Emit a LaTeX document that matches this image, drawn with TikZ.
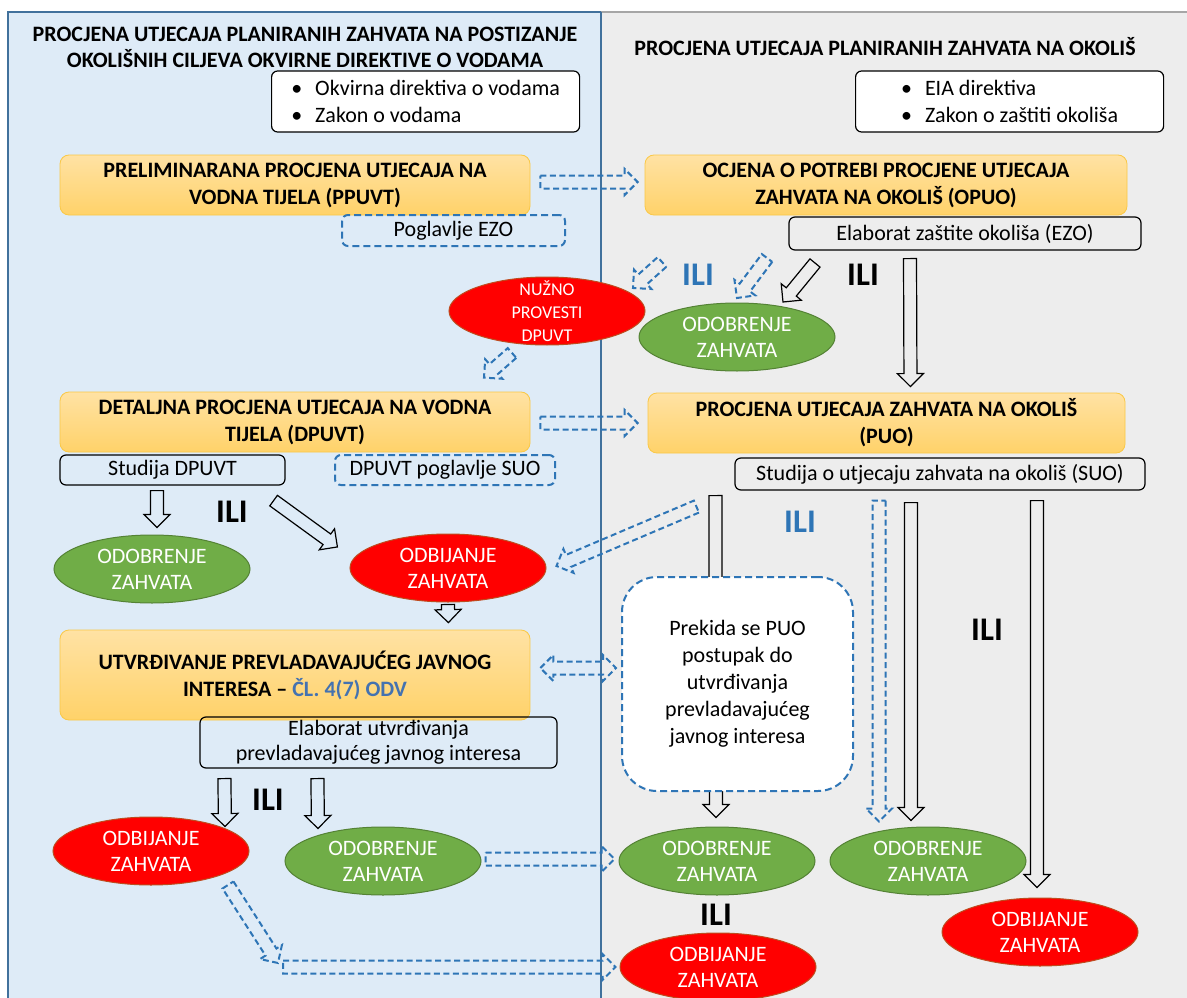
\documentclass[tikz,border=0pt]{standalone}
\usepackage{fontspec}
\setmainfont{Carlito}
\usetikzlibrary{shapes.geometric,calc}

\definecolor{leftbg}{RGB}{222,235,247}
\definecolor{rightbg}{RGB}{237,237,237}
\definecolor{panelline}{RGB}{65,113,156}
\definecolor{greyline}{RGB}{166,166,166}
\definecolor{orTop}{RGB}{255,226,164}
\definecolor{orBot}{RGB}{255,210,105}
\definecolor{orLine}{RGB}{250,200,70}
\definecolor{okFill}{RGB}{112,173,71}
\definecolor{okLine}{RGB}{84,130,53}
\definecolor{noFill}{RGB}{255,0,0}
\definecolor{noLine}{RGB}{190,75,30}
\definecolor{dashblue}{RGB}{46,117,182}
\definecolor{refblue}{RGB}{68,114,176}

\newcommand{\bodyfont}{\fontsize{22}{27}\selectfont}

\tikzset{
  stage/.style={rectangle, rounded corners=9pt, draw=orLine, line width=0.8pt,
    top color=orTop, bottom color=orBot, minimum width=470pt, minimum height=60pt,
    inner sep=0pt, align=center, font=\bodyfont\bfseries},
  doc/.style={rectangle, rounded corners=6pt, draw=black, line width=1.2pt,
    inner sep=0pt, align=center, font=\bodyfont},
  docdash/.style={doc, draw=dashblue, line width=2pt, dash pattern=on 7pt off 4pt},
  law/.style={doc, fill=white, minimum width=308pt, minimum height=61pt,
    inner xsep=19pt, align=left, anchor=west},
  ellbase/.style={ellipse, line width=1pt, minimum width=196pt, minimum height=68pt, inner sep=0pt},
  elltext/.style={text=white, align=center, font=\fontsize{22}{26}\selectfont},
  okell/.style={ellbase, draw=okLine, fill=okFill, label={[elltext]center:ODOBRENJE\\ZAHVATA}},
  noell/.style={ellbase, draw=noLine, fill=noFill, label={[elltext]center:ODBIJANJE\\ZAHVATA}},
  ili/.style={font=\fontsize{33}{33}\selectfont\bfseries},
  blk/.style={draw=black, line width=1.2pt},
  blkdash/.style={draw=dashblue, line width=2pt, dash pattern=on 6pt off 3.5pt},
  pics/barrowshape/.style 2 args={code={
    \draw[#1] (0,-6.5) -- ({#2-13},-6.5) -- ({#2-13},-13) -- (#2,0)
      -- ({#2-13},13) -- ({#2-13},6.5) -- (0,6.5) -- cycle;}},
  pics/dblarrowshape/.style 2 args={code={
    \draw[#1] (0,0) -- (13,-13) -- (13,-6.5) -- ({#2-13},-6.5) -- ({#2-13},-13) -- (#2,0)
      -- ({#2-13},13) -- ({#2-13},6.5) -- (13,6.5) -- (13,13) -- cycle;}},
}

% hollow block arrow from #2 to #3
\newcommand{\barrow}[3][blk]{%
  \path let \p1=#2, \p2=#3, \n1={atan2(\y2-\y1,\x2-\x1)},
    \n2={veclen(\x2-\x1,\y2-\y1)} in (\p1) pic[rotate=\n1] {barrowshape={#1}{\n2}};}
\newcommand{\dblarrow}[3][blkdash]{%
  \path let \p1=#2, \p2=#3, \n1={atan2(\y2-\y1,\x2-\x1)},
    \n2={veclen(\x2-\x1,\y2-\y1)} in (\p1) pic[rotate=\n1] {dblarrowshape={#1}{\n2}};}

\begin{document}
\begin{tikzpicture}[x=1pt, y=-1pt]
\useasboundingbox (0,0) rectangle (1187,998);

% panels
\filldraw[fill=leftbg, draw=panelline, line width=1.5pt] (8,12) rectangle (601,1010);
\fill[rightbg] (601,12) rectangle (1195,1010);
\draw[greyline, line width=1.5pt] (601,12) -- (1195,12);
\draw[panelline, line width=1.5pt] (601,12) -- (601,1010);

% titles and laws
\node[align=center, font=\fontsize{22}{26}\selectfont\bfseries] (titleL) at (305,47)
  {PROCJENA UTJECAJA PLANIRANIH ZAHVATA NA POSTIZANJE\\OKOLIŠNIH CILJEVA OKVIRNE DIREKTIVE O VODAMA};
\node[font=\fontsize{22}{26}\selectfont\bfseries] (titleR) at (885,47)
  {PROCJENA UTJECAJA PLANIRANIH ZAHVATA NA OKOLIŠ};
\node[law] (lawL) at (271,101.5) {\textbullet\hspace{13pt}Okvirna direktiva o vodama\\\textbullet\hspace{13pt}Zakon o vodama};
\node[law] (lawR) at (855,101.5) {\textbullet\hspace{13pt}EIA direktiva\\\textbullet\hspace{13pt}Zakon o zaštiti okoliša};

% stages
\node[stage] (ppuvt) at (295,185) {PRELIMINARANA PROCJENA UTJECAJA NA\\VODNA TIJELA (PPUVT)};
\node[stage, minimum width=482pt] (opuo) at (886,185) {OCJENA O POTREBI PROCJENE UTJECAJA\\ZAHVATA NA OKOLIŠ (OPUO)};
\node[docdash, minimum width=223pt, minimum height=31pt] (ezoL) at (453.5,230.5) {Poglavlje EZO};
\node[doc, minimum width=352pt, minimum height=33pt] (ezoR) at (965,233.5) {Elaborat zaštite okoliša (EZO)};

\node[ellbase, draw=noLine, fill=noFill,
  label={[elltext, font=\fontsize{18}{23}\selectfont]center:NUŽNO\\PROVESTI\\DPUVT}] (needDp) at (547,311) {};
\node[okell] (okOpuo) at (737,337) {};

\node[stage] (dpuvt) at (295,422) {DETALJNA PROCJENA UTJECAJA NA VODNA\\TIJELA (DPUVT)};
\node[stage, minimum width=477pt] (puo) at (886.5,423) {PROCJENA UTJECAJA ZAHVATA NA OKOLIŠ\\(PUO)};
\node[doc, minimum width=225pt, minimum height=30pt] (studDp) at (172.5,470) {Studija DPUVT};
\node[docdash, minimum width=220pt, minimum height=30pt] (sucDp) at (445,470) {DPUVT poglavlje SUO};
\node[doc, minimum width=410pt, minimum height=32pt] (suo) at (940,474) {Studija o utjecaju zahvata na okoliš (SUO)};

\node[okell] (okDp) at (152,569) {};
\node[noell] (noDp) at (448,568) {};

\node[stage, minimum height=90pt] (jav) at (295,675)
  {UTVRĐIVANJE PREVLADAVAJUĆEG JAVNOG\\INTERESA -- \textcolor{refblue}{ČL. 4(7) ODV}};
\node[doc, minimum width=357pt, minimum height=51pt, font=\fontsize{22}{25}\selectfont] (elab) at (378.5,742.5)
  {Elaborat utvrđivanja\\prevladavajućeg javnog interesa};

\node[noell] (noJav) at (151,851) {};
\node[okell] (okJav) at (383,861) {};
\node[okell] (okPrek) at (717,861) {};
\node[noell] (noPrek) at (718,967) {};
\node[okell] (okPuo) at (928,861) {};
\node[noell] (noPuo) at (1040,932) {};

% ILI
\node[ili, text=dashblue] (ili1) at (698,275) {ILI};
\node[ili] (ili2) at (863,275) {ILI};
\node[ili] (ili3) at (232,512) {ILI};
\node[ili, text=dashblue] (ili4) at (800,522) {ILI};
\node[ili] (ili5) at (987,630) {ILI};
\node[ili] (ili6) at (268,800) {ILI};
\node[ili] (ili7) at (716,915) {ILI};

% black arrows
\barrow{($(ezoR.south)+(-55,8)$)}{($(puo.north)+(24,-6)$)}
\barrow{($(okOpuo)+(78,-74)$)}{($(okOpuo)+(46,-35)$)}
\barrow{($(studDp.south)+(-15.5,5)$)}{($(okDp.north)+(5,-7)$)}
\barrow{($(studDp.south east)+(-12,15)$)}{($(noDp.west)+(-12,-21)$)}
\barrow{($(suo.south west)+(-19,5)$)}{($(okPrek.north)+(-1,-9)$)}
\barrow{($(suo.south)+(-29,12)$)}{($(okPuo.north)+(-17,-6)$)}
\barrow{($(suo.south)+(97,10)$)}{($(noPuo.north)+(-3,-10)$)}
\barrow{($(noDp.south)+(0,2)$)}{($(jav.north east)+(-82,-7)$)}
\barrow{($(elab.south west)+(25,10)$)}{($(noJav.north)+(74,10)$)}
\barrow{($(elab.south west)+(118,10)$)}{($(okJav.north)+(-65,2)$)}

% blue dashed arrows
\barrow[blkdash]{($(ppuvt.east)+(10,-3)$)}{($(opuo.west)+(-7,-3)$)}
\barrow[blkdash]{($(needDp)+(115,-49)$)}{($(needDp)+(86,-23)$)}
\barrow[blkdash]{($(okOpuo)+(30,-79)$)}{($(okOpuo)+(0,-39)$)}
\barrow[blkdash]{($(needDp)+(-35,42)$)}{($(dpuvt.north)+(189,-14)$)}
\barrow[blkdash]{($(dpuvt.east)+(10,1)$)}{($(puo.west)+(-10,0)$)}
\barrow[blkdash]{($(suo.south west)+(-38,16)$)}{($(noDp.east)+(10,-2)$)}
\barrow[blkdash]{($(suo.south)+(-61,10)$)}{($(okPuo.north)+(-49,-5)$)}
\barrow[blkdash]{($(okJav.east)+(4,-2)$)}{($(okPrek.west)+(-4,-2)$)}
\coordinate (turnA) at ($(noJav)+(127,112)$);
\barrow[blkdash]{($(noJav)+(77,34)$)}{(turnA)}
\barrow[blkdash]{($(turnA)+(5,4)$)}{($(noPrek.west)+(-4,0)$)}

% interrupted EIA procedure
\node[doc, fill=white, draw=dashblue, line width=2pt, dash pattern=on 7pt off 4pt, rounded corners=35pt,
  minimum width=231pt, minimum height=214pt] (prekid) at (737.5,684)
  {Prekida se PUO\\postupak do\\utvrđivanja\\prevladavajućeg\\javnog interesa};
\dblarrow{($(jav.east)+(10,-7)$)}{($(prekid.west)+(-5,-16)$)}
\end{tikzpicture}
\end{document}
